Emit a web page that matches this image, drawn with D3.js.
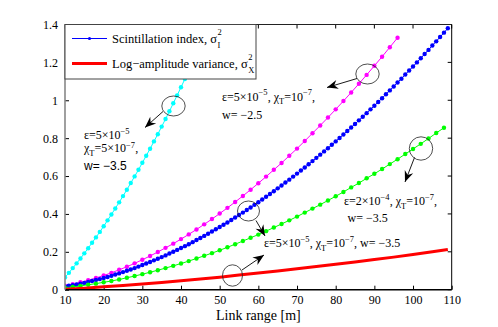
<!DOCTYPE html>
<html>
<head>
<meta charset="utf-8">
<script src="https://cdn.jsdelivr.net/npm/d3@7"></script>
<style>
  body { margin: 0; background: #fff; }
</style>
</head>
<body>
<div id="chart"></div>
<script>
// link range [m] and values
const blueRange = [10,11,12,13,14,15,16,17,18,19,20,21,22,23,24,25,26,27,28,29,30,31,32,33,34,35,36,37,38,39,40,41,42,43,44,45,46,47,48,49,50,51,52,53,54,55,56,57,58,59,60,61,62,63,64,65,66,67,68,69,70,71,72,73,74,75,76,77,78,79,80,81,82,83,84,85,86,87,88,89,90,91,92,93,94,95,96,97,98,99,100,101,102,103,104,105,106,107,108,109];
const blueValues = [0.017,0.021,0.024,0.028,0.032,0.036,0.041,0.046,0.051,0.056,0.062,0.067,0.073,0.080,0.086,0.093,0.100,0.107,0.114,0.122,0.130,0.138,0.146,0.155,0.163,0.172,0.181,0.191,0.200,0.210,0.220,0.230,0.240,0.251,0.262,0.273,0.284,0.295,0.307,0.319,0.331,0.343,0.355,0.368,0.381,0.394,0.407,0.421,0.434,0.448,0.462,0.476,0.491,0.505,0.520,0.535,0.550,0.566,0.581,0.597,0.613,0.629,0.645,0.662,0.679,0.696,0.713,0.730,0.747,0.765,0.783,0.801,0.819,0.838,0.856,0.875,0.894,0.913,0.932,0.952,0.971,0.991,1.011,1.032,1.052,1.073,1.094,1.114,1.136,1.157,1.178,1.200,1.222,1.244,1.266,1.289,1.311,1.334,1.357,1.380];

const magentaRange = [10,12,14,16,18,20,22,24,26,28,30,32,34,36,38,40,42,44,46,48,50,52,54,56,58,60,62,64,66,68,70,72,74,76,78,80,82,84,86,88,90,92,94,96];
const magentaValues = [0.021,0.029,0.039,0.050,0.062,0.075,0.089,0.105,0.121,0.139,0.158,0.178,0.199,0.221,0.243,0.267,0.292,0.318,0.345,0.373,0.402,0.432,0.463,0.495,0.528,0.562,0.597,0.633,0.669,0.707,0.745,0.785,0.826,0.867,0.909,0.952,0.996,1.041,1.087,1.134,1.182,1.230,1.280,1.330];

const greenRange = [10,12,14,16,18,20,22,24,26,28,30,32,34,36,38,40,42,44,46,48,50,52,54,56,58,60,62,64,66,68,70,72,74,76,78,80,82,84,86,88,90,92,94,96,98,100,102,104,106,108];
const greenValues = [0.011,0.015,0.020,0.026,0.032,0.039,0.046,0.054,0.063,0.072,0.082,0.092,0.103,0.114,0.126,0.138,0.151,0.165,0.179,0.193,0.208,0.224,0.240,0.257,0.274,0.291,0.309,0.328,0.347,0.366,0.386,0.407,0.428,0.449,0.471,0.493,0.516,0.540,0.563,0.588,0.612,0.637,0.663,0.689,0.716,0.743,0.770,0.798,0.827,0.855];

const cyanRange = [10,11,12,13,14,15,16,17,18,19,20,21,22,23,24,25,26,27,28,29,30,31,32,33,34,35,36,37,38,39,40,41,42,43,44,45,46,47,48];
const cyanValues = [0.065,0.089,0.114,0.139,0.165,0.192,0.219,0.248,0.276,0.305,0.335,0.366,0.397,0.429,0.461,0.494,0.528,0.563,0.598,0.633,0.670,0.707,0.744,0.783,0.821,0.861,0.901,0.942,0.984,1.026,1.069,1.112,1.155,1.200,1.246,1.292,1.338,1.385,1.433];

const redRange = [10,15,20,25,30,35,40,45,50,55,60,65,70,75,80,85,90,95,100,105,109];
const redValues = [0.002,0.008,0.015,0.022,0.030,0.038,0.047,0.056,0.066,0.077,0.088,0.099,0.110,0.122,0.134,0.146,0.159,0.172,0.186,0.200,0.212];

const xTicks = [10,20,30,40,50,60,70,80,90,100,110];
const yTicks = [0,0.2,0.4,0.6,0.8,1,1.2,1.4];
const legendLabels = ['Scintillation index, σ', 'Log−amplitude variance, σ'];

const W = 498, H = 327;
const margin = { top: 24.5, right: 46.3, bottom: 37.3, left: 65 };
const serif = '"Liberation Serif", "Times New Roman", serif';
const sans = '"Liberation Sans", Arial, sans-serif';

const svg = d3.select('#chart').append('svg')
  .attr('width', W).attr('height', H)
  .style('font-family', serif);

const x = d3.scaleLinear().domain([10, 110]).range([margin.left, W - margin.right]);
const y = d3.scaleLinear().domain([0, 1.4]).range([H - margin.bottom, margin.top]);

svg.append('defs').append('clipPath').attr('id', 'plot-clip')
  .append('rect')
  .attr('x', x(10)).attr('y', y(1.4))
  .attr('width', x(110) - x(10)).attr('height', y(0) - y(1.4));

svg.select('defs').append('marker')
  .attr('id', 'head')
  .attr('viewBox', '-12 -6 14 12')
  .attr('refX', 0).attr('refY', 0)
  .attr('markerWidth', 14).attr('markerHeight', 12)
  .attr('markerUnits', 'userSpaceOnUse')
  .attr('orient', 'auto')
  .append('path')
  .attr('d', 'M0,0 L-11,-4.5 L-7.5,0 L-11,4.5 Z')
  .attr('fill', '#000');

// axes
const xAxis = d3.axisBottom(x).tickValues(xTicks).tickSize(-4).tickSizeOuter(0).tickPadding(6);
const yAxis = d3.axisLeft(y).tickValues(yTicks).tickSize(-4).tickSizeOuter(0).tickPadding(7).tickFormat((d) => String(d));

const gx = svg.append('g').attr('transform', `translate(0,${y(0)})`).call(xAxis);
const gy = svg.append('g').attr('transform', `translate(${x(10)},0)`).call(yAxis);
[gx, gy].forEach((g) => {
  g.select('.domain').remove();
  g.selectAll('text').style('font-family', serif).style('font-size', '12px').attr('fill', '#000');
  g.selectAll('line').attr('stroke', '#000');
});

// mirrored ticks on top and right
svg.append('g').selectAll('line').data(xTicks).enter().append('line')
  .attr('x1', (d) => x(d)).attr('x2', (d) => x(d))
  .attr('y1', y(1.4)).attr('y2', y(1.4) + 4)
  .attr('stroke', '#000');
svg.append('g').selectAll('line').data(yTicks).enter().append('line')
  .attr('x1', x(110)).attr('x2', x(110) - 4)
  .attr('y1', (d) => y(d)).attr('y2', (d) => y(d))
  .attr('stroke', '#000');

// series
const plot = svg.append('g').attr('clip-path', 'url(#plot-clip)');
const line = d3.line().x((d) => x(d[0])).y((d) => y(d[1]));

function drawSeries(xs, ys, color, r) {
  const pts = xs.map((v, i) => [v, ys[i]]);
  plot.append('path').datum(pts)
    .attr('d', line).attr('fill', 'none')
    .attr('stroke', color).attr('stroke-width', 1);
  plot.append('g').selectAll('circle').data(pts).enter().append('circle')
    .attr('cx', (d) => x(d[0])).attr('cy', (d) => y(d[1]))
    .attr('r', r).attr('fill', color);
}

drawSeries(cyanRange, cyanValues, '#00ffff', 2.2);
drawSeries(magentaRange, magentaValues, '#ff00ff', 2.2);
drawSeries(blueRange, blueValues, '#0000ff', 2.2);
drawSeries(greenRange, greenValues, '#00ff00', 2.2);

plot.append('path').datum(redRange.map((v, i) => [v, redValues[i]]))
  .attr('d', line).attr('fill', 'none')
  .attr('stroke', '#ff0000').attr('stroke-width', 3);

// frame
svg.append('line').attr('x1', x(10)).attr('x2', x(110)).attr('y1', y(1.4)).attr('y2', y(1.4)).attr('stroke', '#222');
svg.append('line').attr('x1', x(110)).attr('x2', x(110)).attr('y1', y(1.4)).attr('y2', y(0)).attr('stroke', '#000');
svg.append('line').attr('x1', x(10)).attr('x2', x(110)).attr('y1', y(0)).attr('y2', y(0)).attr('stroke', '#000').attr('stroke-width', 1.5);
svg.append('line').attr('x1', x(10)).attr('x2', x(10)).attr('y1', y(1.4)).attr('y2', y(0)).attr('stroke', '#888').attr('stroke-width', 1.6);

svg.append('text')
  .attr('x', (x(10) + x(110)) / 2).attr('y', 320)
  .attr('text-anchor', 'middle')
  .style('font-size', '14px')
  .text('Link range [m]');

// legend
const legend = svg.append('g');
legend.append('rect')
  .attr('x', 65).attr('y', 24.5).attr('width', 191).attr('height', 54.5)
  .attr('fill', '#fff').attr('stroke', '#444').attr('stroke-width', 1);
legend.append('line').attr('x1', 72).attr('x2', 107).attr('y1', 38.5).attr('y2', 38.5).attr('stroke', '#0000ff').attr('stroke-width', 1);
legend.append('circle').attr('cx', 89.5).attr('cy', 38.5).attr('r', 1.6).attr('fill', '#0000ff');
legend.append('line').attr('x1', 72).attr('x2', 107).attr('y1', 63.5).attr('y2', 63.5).attr('stroke', '#ff0000').attr('stroke-width', 3);

function sigmaLabel(ty, label, sub) {
  const t = legend.append('text').attr('x', 112).attr('y', ty).style('font-size', '12.5px').text(label);
  const end = 112 + t.node().getComputedTextLength() + 0.5;
  legend.append('text').attr('x', end).attr('y', ty - 7.5).style('font-size', '8.5px').text('2');
  legend.append('text').attr('x', end).attr('y', ty + 5.5).style('font-size', '8.5px').text(sub);
}
sigmaLabel(42.5, legendLabels[0], 'I');
sigmaLabel(67.5, legendLabels[1], 'X');

// annotations
function richText(tx, ty, parts, family, supShift) {
  const t = svg.append('text').attr('x', tx).attr('y', ty)
    .style('font-size', '12px').style('font-family', family || serif);
  let shift = 0;
  parts.forEach(([s, mode]) => {
    const target = mode === 'sup' ? -(supShift || 5.5) : mode === 'sub' ? 3.5 : 0;
    t.append('tspan').attr('dy', target - shift)
      .style('font-size', mode === 'n' ? '12px' : '8.5px').text(s);
    shift = target;
  });
}

function callout(cx, cy, rx, ry, fx, fy, tx, ty) {
  svg.append('ellipse').attr('cx', cx).attr('cy', cy).attr('rx', rx).attr('ry', ry)
    .attr('fill', 'none').attr('stroke', '#222').attr('stroke-width', 0.8);
  svg.append('line').attr('x1', fx).attr('y1', fy).attr('x2', tx).attr('y2', ty)
    .attr('stroke', '#000').attr('stroke-width', 0.9).attr('marker-end', 'url(#head)');
}

// cyan
callout(173.5, 106, 11.7, 10, 163, 111.5, 145, 127.5);
richText(84, 139, [['ε=5×10', 'n'], ['−5', 'sup']]);
richText(84, 152, [['χ', 'n'], ['T', 'sub'], ['=5×10', 'n'], ['−7', 'sup'], [',', 'n']], serif, 4.5);
richText(84, 170, [['w= −3.5', 'n']], sans);

// magenta
callout(367.5, 74, 11.7, 10, 357, 78.5, 327, 87.5);
richText(222, 100.5, [['ε=5×10', 'n'], ['−5', 'sup'], [', χ', 'n'], ['T', 'sub'], ['=10', 'n'], ['−7', 'sup'], [',', 'n']]);
richText(222, 118.5, [['w= −2.5', 'n']]);

// blue and red
callout(248.5, 211, 11, 10, 256, 220.5, 265, 236);
callout(232.5, 275.5, 10, 10.7, 242, 270, 264, 255);
richText(264, 247, [['ε=5×10', 'n'], ['−5', 'sup'], [', χ', 'n'], ['T', 'sub'], ['=10', 'n'], ['−7', 'sup'], [', w= −3.5', 'n']]);

// green
callout(421, 148.5, 11.7, 11.7, 414.5, 157.5, 405, 182);
richText(344, 205, [['ε=2×10', 'n'], ['−4', 'sup'], [', χ', 'n'], ['T', 'sub'], ['=10', 'n'], ['−7', 'sup'], [',', 'n']]);
richText(347.5, 221.5, [['w= −3.5', 'n']]);
</script>
</body>
</html>
